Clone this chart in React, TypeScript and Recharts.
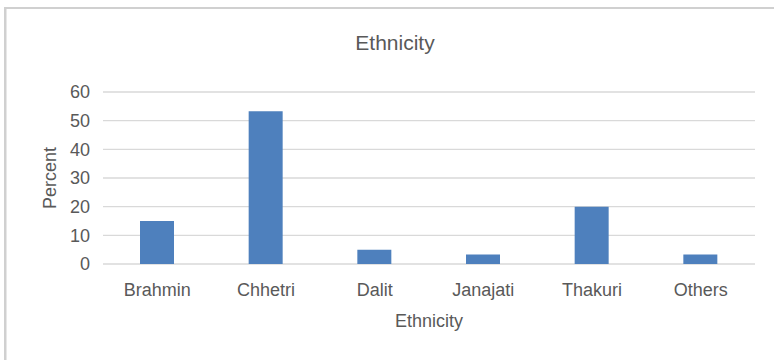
import React from 'react';
import { BarChart, Bar, XAxis, YAxis, CartesianGrid, Customized } from 'recharts';

const categories = ['Brahmin', 'Chhetri', 'Dalit', 'Janajati', 'Thakuri', 'Others'];
const percents = [15, 53.3, 5, 3.3, 20, 3.3];
const yTicks = [0, 10, 20, 30, 40, 50, 60];

const chartTitle = 'Ethnicity';
const xTitle = 'Ethnicity';
const yTitle = 'Percent';

const data = categories.map((c, i) => ({ name: c, value: percents[i] }));

const FONT = '"Liberation Sans", Arial, Helvetica, sans-serif';
const TEXT = '#595959';

const Decor = () => (
  <g>
    <rect x={4} y={7} width={780} height={2} fill="#d0d0d0" />
    <rect x={4} y={7} width={2.5} height={360} fill="#d0d0d0" />
    <text x={395} y={50} textAnchor="middle" fontFamily={FONT} fontSize={21} fill={TEXT}>
      {chartTitle}
    </text>
  </g>
);

export default function App() {
  return (
    <div style={{ position: 'absolute', left: 0, top: 0, width: 774, height: 360, background: '#fff' }}>
      <BarChart
        width={774}
        height={360}
        data={data}
        margin={{ top: 92, right: 19, bottom: 0, left: 43 }}
        style={{ overflow: 'visible' }}
      >
        <CartesianGrid vertical={false} stroke="#d9d9d9" strokeWidth={1.4} />
        <XAxis
          dataKey="name"
          tickLine={false}
          axisLine={false}
          tickSize={0}
          tickMargin={19}
          interval={0}
          height={96}
          tick={{ fill: TEXT, fontSize: 18, fontFamily: FONT }}
          label={(props: any) => {
            const vb = props.viewBox;
            return (
              <text x={vb.x + vb.width / 2} y={327} textAnchor="middle" fontFamily={FONT} fontSize={18} fill={TEXT}>
                {xTitle}
              </text>
            );
          }}
        />
        <YAxis
          domain={[0, 60]}
          ticks={yTicks}
          interval={0}
          tickLine={false}
          axisLine={false}
          tickSize={0}
          tickMargin={13}
          width={60}
          tick={{ fill: TEXT, fontSize: 18, fontFamily: FONT }}
          label={(props: any) => {
            const vb = props.viewBox;
            const cx = 50;
            const cy = vb.y + vb.height / 2;
            return (
              <text
                x={cx}
                y={cy}
                transform={`rotate(-90, ${cx}, ${cy})`}
                textAnchor="middle"
                dominantBaseline="central"
                fontFamily={FONT}
                fontSize={18}
                fill={TEXT}
              >
                {yTitle}
              </text>
            );
          }}
        />
        <Bar dataKey="value" fill="#4e80bd" barSize={34} isAnimationActive={false} />
        <Customized component={Decor} />
      </BarChart>
    </div>
  );
}
